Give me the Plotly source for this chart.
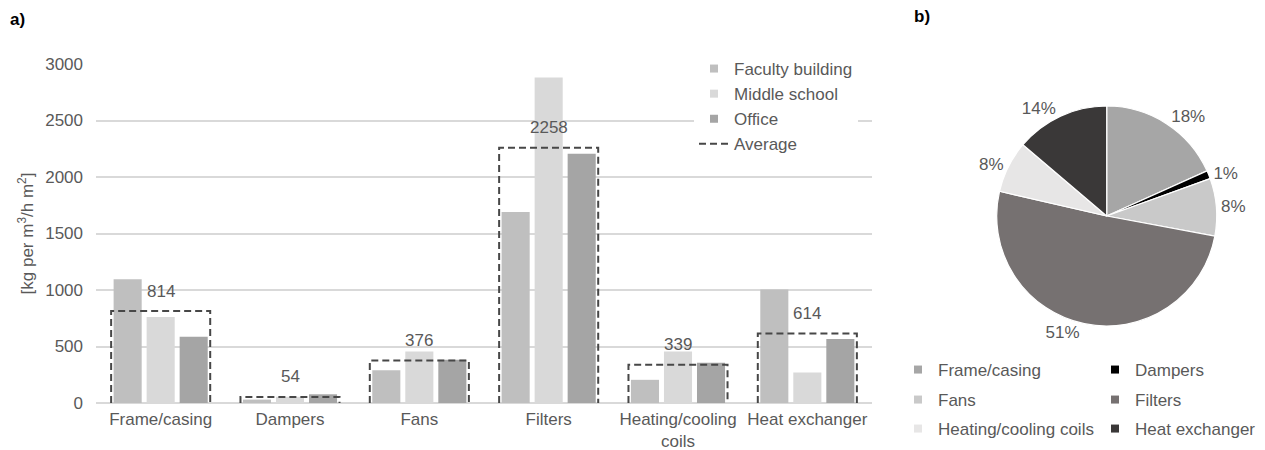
import plotly.graph_objects as go

# ---------------- data ----------------
categories = ["Frame/casing", "Dampers", "Fans", "Filters", "Heating/cooling coils", "Heat exchanger"]
tick_labels = ["Frame/casing", "Dampers", "Fans", "Filters", "Heating/cooling<br>coils", "Heat exchanger"]
faculty_building = [1095, 30, 290, 1690, 205, 1005]
middle_school = [760, 55, 455, 2880, 455, 270]
office = [587, 77, 383, 2205, 357, 567]
average = [814, 54, 376, 2258, 339, 614]

series_names = ["Faculty building", "Middle school", "Office"]
series_colors = ["#bfbfbf", "#d9d9d9", "#a5a5a5"]
pie_colors = ["#a6a6a6", "#000000", "#c9c9c9", "#767171", "#e7e6e6", "#3a3838"]
y_ticks = [0, 500, 1000, 1500, 2000, 2500, 3000]

# ---------------- layout helpers ----------------
W, H = 1265, 450
ML, MR, MT, MB = 96, 20, 64, 47
PW, PH = W - ML - MR, H - MT - MB
def px(x):
    return (x - ML) / PW
def py(y):
    return (H - MB - y) / PH

FONT = "Liberation Sans, Arial, sans-serif"
TXT = "#595959"
BARGAP = 0.234

fig = go.Figure()

xs = list(range(len(categories)))
series = [faculty_building, middle_school, office]
for name, vals, col in zip(series_names, series, series_colors):
    fig.add_trace(go.Bar(x=xs, y=vals, name=name, marker=dict(color=col, line=dict(width=0)),
                         showlegend=False, hoverinfo="y+name"))
    fig.add_trace(go.Scatter(x=[None], y=[None], mode="markers", name=name,
                             marker=dict(symbol="square", size=8, color=col),
                             hoverinfo="skip"))

# Average as dashed open boxes around each group
half = (1 - BARGAP) / 2
bx, by = [], []
for i, v in enumerate(average):
    bx += [i - half, i - half, i + half, i + half, None]
    by += [0, v, v, 0, None]
fig.add_trace(go.Scatter(x=bx, y=by, mode="lines", name="Average",
                         line=dict(color="#474747", width=2, dash="7px,4px"),
                         hoverinfo="skip"))

for i, v in enumerate(average):
    fig.add_annotation(x=i, y=v, text=str(v), showarrow=False, yshift=20,
                       xref="x", yref="y", font=dict(size=17, color=TXT, family=FONT))

# Pie of averages
fig.add_trace(go.Pie(labels=categories, values=average, sort=False, direction="clockwise",
                     rotation=0, marker=dict(colors=pie_colors, line=dict(color="white", width=1.2)),
                     textposition="outside", texttemplate="%{percent:.0%}",
                     textfont=dict(size=17, color=TXT, family=FONT),
                     domain=dict(x=[px(996.7), px(1216.7)], y=[py(326), py(106)]),
                     showlegend=False, hoverinfo="label+value+percent"))

# Pie legend entries (2 columns x 3 rows)
legend_names = ["legend2", "legend3", "legend4"]
for k, (cat, col) in enumerate(zip(categories, pie_colors)):
    fig.add_trace(go.Scatter(x=[None], y=[None], mode="markers", name=cat,
                             marker=dict(symbol="square", size=8, color=col),
                             legend=legend_names[k // 2], hoverinfo="skip"))

row_y = [370, 400, 429]
leg_common = dict(orientation="h", xanchor="left", yanchor="middle", bgcolor="rgba(0,0,0,0)",
                  font=dict(size=17, color=TXT, family=FONT), entrywidth=152,
                  entrywidthmode="pixels", itemclick=False, itemdoubleclick=False)
fig.update_layout(
    legend2=dict(x=px(898), y=py(row_y[0]), **leg_common),
    legend3=dict(x=px(898), y=py(row_y[1]), **leg_common),
    legend4=dict(x=px(898), y=py(row_y[2]), **leg_common),
)

fig.update_layout(
    width=W, height=H,
    paper_bgcolor="white", plot_bgcolor="white",
    margin=dict(l=ML, r=MR, t=MT, b=MB, autoexpand=False),
    barmode="group", bargap=BARGAP, bargroupgap=0.15,
    font=dict(family=FONT, size=17, color=TXT),
    xaxis=dict(domain=[0, px(872)], range=[-0.5, len(categories) - 0.5],
               tickmode="array", tickvals=xs, ticktext=tick_labels,
               showgrid=False, zeroline=False, showline=False, ticks="",
               ticklabelstandoff=4,
               tickfont=dict(size=17, color=TXT, family=FONT), fixedrange=True),
    yaxis=dict(range=[0, 3000], tickmode="array", tickvals=y_ticks,
               showgrid=True, gridcolor="#d9d9d9", gridwidth=1.5,
               zeroline=True, zerolinecolor="#d9d9d9", zerolinewidth=1.5,
               showline=False, ticks="", ticklabelstandoff=12,
               tickfont=dict(size=17, color=TXT, family=FONT),
               title=dict(text="[kg per m<sup>3</sup>/h m<sup>2</sup>]", standoff=7,
                          font=dict(size=17, color=TXT, family=FONT)),
               fixedrange=True),
    legend=dict(x=px(694), y=py(51), xanchor="left", yanchor="top",
                orientation="v", traceorder="normal",
                bgcolor="white", font=dict(size=17, color=TXT, family=FONT),
                itemclick=False, itemdoubleclick=False),
    showlegend=True,
)

fig.add_annotation(text="<b>a)</b>", x=px(8), y=py(20), xref="paper", yref="paper",
                   showarrow=False, xanchor="left", yanchor="middle",
                   font=dict(size=17, color="black", family=FONT))
fig.add_annotation(text="<b>b)</b>", x=px(912), y=py(17), xref="paper", yref="paper",
                   showarrow=False, xanchor="left", yanchor="middle",
                   font=dict(size=17, color="black", family=FONT))

fig.write_html("out.html", config={"displayModeBar": False},
               post_script="document.body.style.margin='0px';")
